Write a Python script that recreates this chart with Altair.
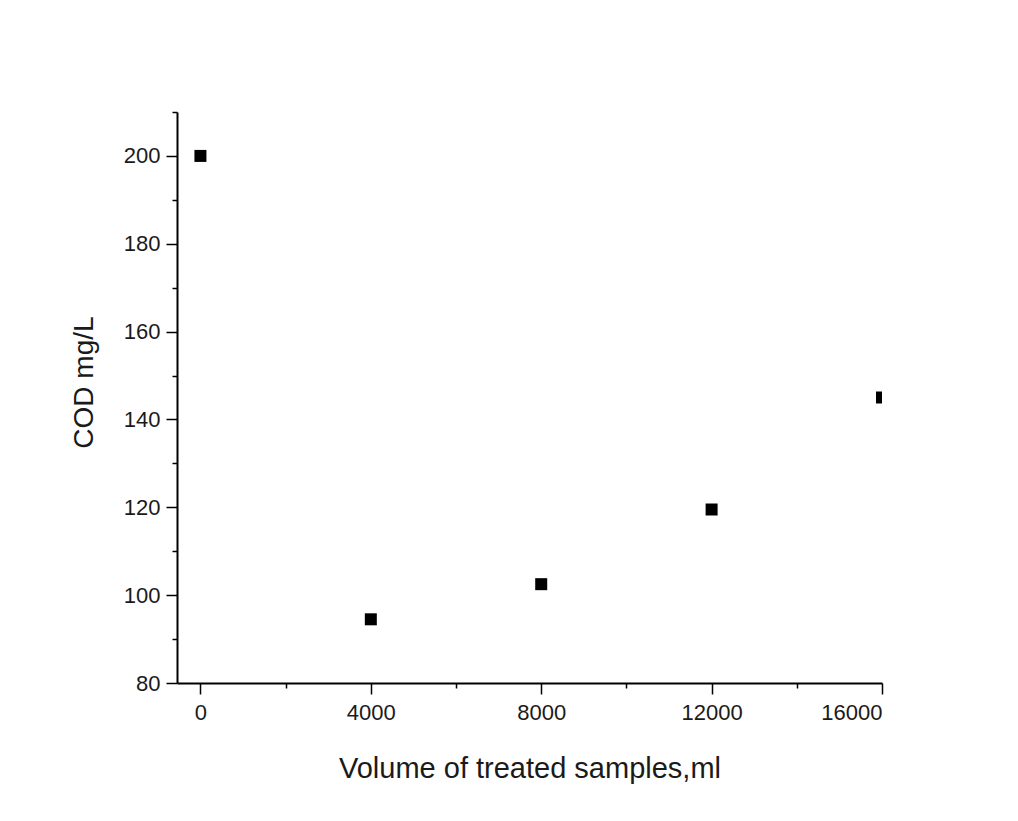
import altair as alt
import pandas as pd

volume = [0, 4000, 8000, 12000, 16000]
cod = [200, 94.5, 102.5, 119.5, 145]

x_major = [0, 4000, 8000, 12000, 16000]
x_minor = [2000, 6000, 10000, 14000]
y_major = [80, 100, 120, 140, 160, 180, 200]
y_minor = [90, 110, 130, 150, 170, 190, 210]

df = pd.DataFrame({"volume": volume, "cod": cod})

FONT = "Liberation Sans"
TXT = "#1a1a1a"
xscale = alt.Scale(domain=[-550, 16000], nice=False, zero=False)
yscale = alt.Scale(domain=[80, 210], nice=False, zero=False)

points = alt.Chart(df).mark_square(size=144, color="black", opacity=1, clip=True).encode(
    x=alt.X("volume:Q", scale=xscale, axis=alt.Axis(
        orient="bottom", values=x_major, format="d", tickSize=11, tickWidth=1.5, tickColor="black",
        domainColor="black", domainWidth=2, labelFont=FONT, labelFontSize=22, labelColor=TXT,
        labelPadding=8, grid=False, title="Volume of treated samples,ml", titleFont=FONT,
        titleFontSize=29, titleFontWeight="normal", titleColor=TXT, titlePadding=31)),
    y=alt.Y("cod:Q", scale=yscale, axis=alt.Axis(
        orient="left", values=y_major, tickSize=11, tickWidth=1.5, tickColor="black",
        domainColor="black", domainWidth=2, labelFont=FONT, labelFontSize=22, labelColor=TXT,
        labelPadding=6, grid=False, title="COD mg/L", titleFont=FONT, titleFontSize=28,
        titleFontWeight="normal", titleColor=TXT, titlePadding=25, titleY=270)),
)

minor = alt.Chart(df).mark_point(opacity=0).encode(
    x=alt.X("volume:Q", scale=xscale, axis=alt.Axis(
        orient="bottom", values=x_minor, labels=False, tickSize=5, tickWidth=1.5,
        tickColor="black", domain=False, grid=False, title=None)),
    y=alt.Y("cod:Q", scale=yscale, axis=alt.Axis(
        orient="left", values=y_minor, labels=False, tickSize=5, tickWidth=1.5,
        tickColor="black", domain=False, grid=False, title=None)),
)

chart = alt.layer(points, minor).resolve_axis(x="independent", y="independent").properties(
    width=705, height=571,
    autosize="none",
    padding={"left": 169, "top": 104, "right": 20, "bottom": 120},
).configure_view(stroke=None)

chart.save("out.html", embed_options={"renderer": "svg", "actions": False})
